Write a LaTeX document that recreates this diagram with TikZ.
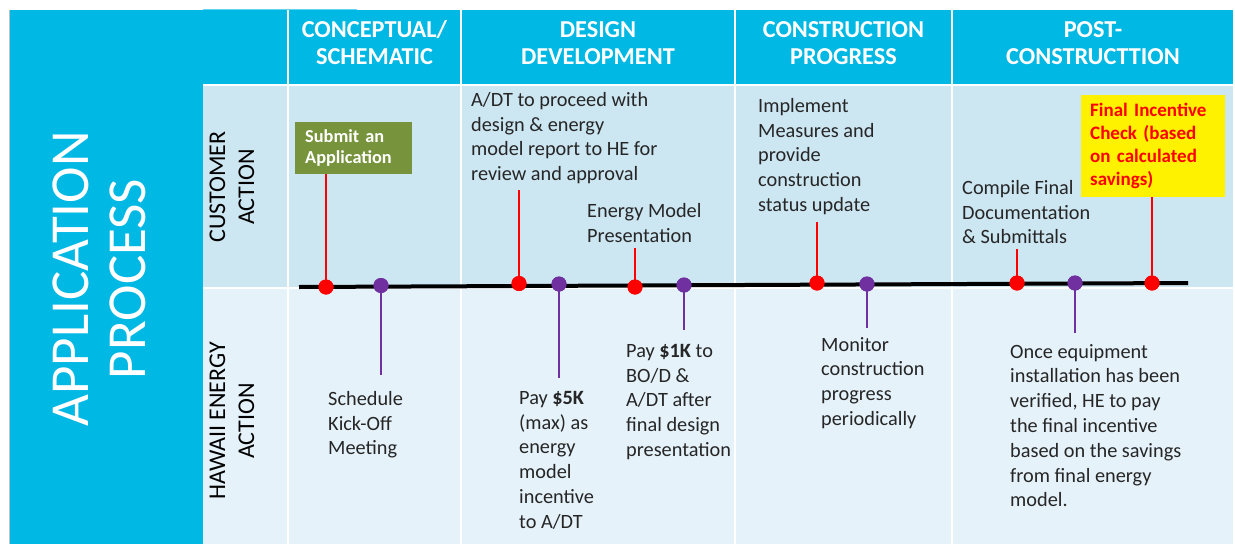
\documentclass[tikz,border=0pt]{standalone}
\usepackage{fontspec}
\setmainfont{Carlito}
\definecolor{hdcyan}{HTML}{00B8E4}
\definecolor{rowone}{HTML}{CCE6F2}
\definecolor{rowtwo}{HTML}{E5F2FA}
\definecolor{boxolive}{HTML}{77933C}
\definecolor{dotred}{HTML}{FF0000}
\definecolor{dotpurple}{HTML}{7030A0}
\definecolor{bodytext}{HTML}{262626}
\tikzset{
  hdr/.style={text=white, font=\fontsize{24.3}{27}\selectfont\bfseries, align=center, inner sep=0},
  rowlbl/.style={text=black, font=\fontsize{24}{29}\selectfont, align=center, rotate=90, inner sep=0},
  body/.style={text=bodytext, font=\fontsize{20.3}{24.8}\selectfont, align=left, anchor=north west, inner sep=0},
  reddot/.style={circle, fill=dotred, minimum size=15, inner sep=0},
  purpledot/.style={circle, fill=dotpurple, minimum size=15, inner sep=0},
  redstem/.style={draw=dotred, line width=2.8},
  purplestem/.style={draw=dotpurple, line width=2.8},
  sepline/.style={draw=white, line width=2}
}
\begin{document}
\begin{tikzpicture}[x=1pt,y=-1pt]
\useasboundingbox (0,0) rectangle (1235,544);
\fill[white] (0,0) rectangle (1235,544);

% side panel
\fill[hdcyan] (10,10) rectangle (203,544);
\draw[black!25, line width=0.8] (9.6,10) -- (9.6,544);
\node[text=white, font=\fontsize{55}{57}\selectfont, align=center, rotate=90, inner sep=0]
  (title) at (99,279) {APPLICATION\\PROCESS};

% table body
\fill[hdcyan] (203,10) rectangle (1233,84);
\fill[rowone] (203,84) rectangle (1233,288);
\fill[rowtwo] (203,288) rectangle (1233,544);
\draw[hdcyan!60, line width=0.8] (203,9) -- (357,9);
\draw[sepline] (203,84.5) -- (1233,84.5);
\draw[sepline] (203,288) -- (1233,288);
\foreach \sx in {288,461,735,952} \draw[sepline] (\sx,10) -- (\sx,544);

% column headings
\node[hdr] (h1) at (374.5,43) {CONCEPTUAL/\\SCHEMATIC};
\node[hdr] (h2) at (598,43) {DESIGN\\DEVELOPMENT};
\node[hdr] (h3) at (843.5,43) {CONSTRUCTION\\PROGRESS};
\node[hdr] (h4) at (1093,43) {POST-\\CONSTRUCTTION};

% row headings
\node[rowlbl] (cust) at (232,187) {CUSTOMER\\ACTION};
\node[rowlbl] (hawaii) at (232,421) {HAWAII ENERGY\\ACTION};

% timeline
\coordinate (tlA) at (299,287);
\coordinate (tlB) at (1188,283);
\draw[black, line width=4] (tlA) -- (tlB);

% customer actions (above the line)
\node[fill=boxolive, text=white, font=\fontsize{18.3}{21}\selectfont\bfseries, align=left,
  text width=97, inner xsep=10, inner ysep=0, minimum height=52, anchor=north west]
  (submit) at (295,122) {Submit an\\Application};
\node[body] (adt) at (471,92) {A/DT to proceed with\\design \& energy\\model report to HE for\\review and approval};
\node[body] (emp) at (587,203) {Energy Model\\Presentation};
\node[body] (impl) at (758,98) {Implement\\Measures and\\provide\\construction\\status update};
\node[body] (comp) at (962,180) {Compile Final\\Documentation\\\& Submittals};
\node[fill=yellow, text=dotred, font=\fontsize{19}{23}\selectfont\bfseries, align=left,
  text width=126, inner xsep=9, inner ysep=0, minimum height=102, anchor=north west]
  (final) at (1081,95) {Final Incentive\\Check (based\\on calculated\\savings)};

% energy provider actions (below the line)
\node[body] (sched) at (328,391) {Schedule\\Kick-Off\\Meeting};
\node[body] (payfive) at (519,391) {Pay \textbf{\$5K}\\(max) as\\energy\\model\\incentive\\to A/DT};
\node[body] (payone) at (626,344) {Pay \textbf{\$1K} to\\BO/D \&\\A/DT after\\final design\\presentation};
\node[body] (mon) at (821,337) {Monitor\\construction\\progress\\periodically};
\node[body] (once) at (1010,344) {Once equipment\\installation has been\\verified, HE to pay\\the final incentive\\based on the savings\\from final energy\\model.};

% milestone dots
\node[reddot] (r1) at (326,287) {};
\node[purpledot] (p1) at (381,285.5) {};
\node[reddot] (r2) at (519,283.5) {};
\node[purpledot] (p2) at (559,284) {};
\node[reddot] (r3) at (635,287) {};
\node[purpledot] (p3) at (684,285) {};
\node[reddot] (r4) at (817,283) {};
\node[purpledot] (p4) at (867,284) {};
\node[reddot] (r5) at (1017,283) {};
\node[purpledot] (p5) at (1075,283) {};
\node[reddot] (r6) at (1152,283) {};

% stem ends
\coordinate (r2e) at (519,190);
\coordinate (r3e) at (635,248);
\coordinate (r4e) at (817,222);
\coordinate (r5e) at (1017,249);
\coordinate (p1e) at (381,375);
\coordinate (p2e) at (559,378);
\coordinate (p3e) at (684,330);
\coordinate (p4e) at (867,328);
\coordinate (p5e) at (1075,333);

\draw[redstem] (r1.center) -- (r1.center |- submit.south);
\draw[redstem] (r2.center) -- (r2e);
\draw[redstem] (r3.center) -- (r3e);
\draw[redstem] (r4.center) -- (r4e);
\draw[redstem] (r5.center) -- (r5e);
\draw[redstem] (r6.center) -- (r6.center |- final.south);
\draw[purplestem] (p1.center) -- (p1e);
\draw[purplestem] (p2.center) -- (p2e);
\draw[purplestem] (p3.center) -- (p3e);
\draw[purplestem] (p4.center) -- (p4e);
\draw[purplestem] (p5.center) -- (p5e);

% dots drawn again on top of their stems
\foreach \d in {r1,r2,r3,r4,r5,r6} \fill[dotred] (\d.center) circle (7.5);
\foreach \d in {p1,p2,p3,p4,p5} \fill[dotpurple] (\d.center) circle (7.5);
\end{tikzpicture}
\end{document}
